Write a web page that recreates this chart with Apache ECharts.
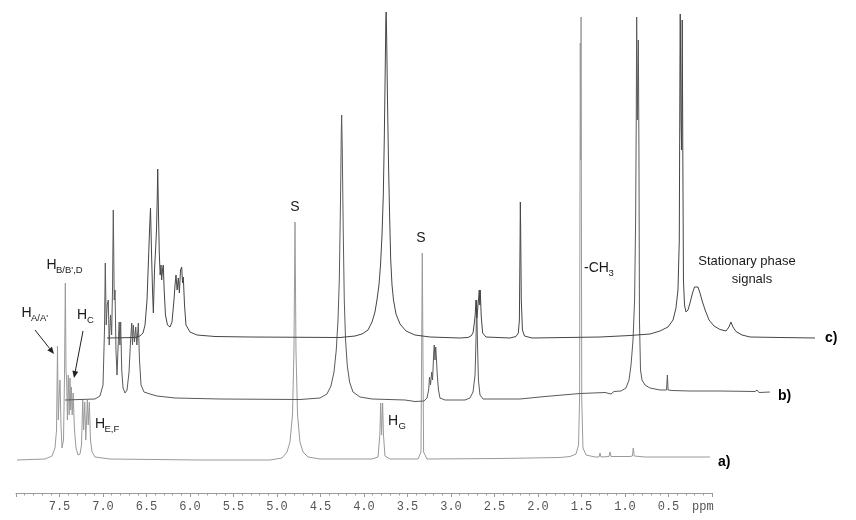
<!DOCTYPE html>
<html>
<head>
<meta charset="utf-8">
<script src="https://cdn.jsdelivr.net/npm/echarts@6/dist/echarts.min.js"></script>
<style>
  html, body { margin: 0; padding: 0; background: #fff; }
  #chart { width: 856px; height: 520px; }
</style>
</head>
<body>
<div id="chart"></div>
<script>
// spectrum a) : [ppm, intensity]
var traceA = [
  [7.989,0],[7.667,1],[7.586,4],[7.552,12],[7.534,30],[7.523,114],[7.514,40],[7.506,60],
  [7.494,80],[7.483,35],[7.471,12],[7.454,20],[7.443,80],[7.433,177],[7.425,90],[7.417,77],
  [7.409,40],[7.399,85],[7.389,45],[7.379,82],[7.371,50],[7.363,73],[7.354,45],[7.343,67],
  [7.328,30],[7.310,12],[7.287,5],[7.264,6],[7.247,15],[7.233,61],[7.223,30],[7.210,58],
  [7.198,20],[7.180,60],[7.170,35],[7.157,58],[7.144,20],[7.126,8],[7.092,3],[6.920,1],
  [5.885,0],[5.080,0],[4.943,2],[4.885,8],[4.851,18],[4.822,45],[4.805,110],[4.793,238],
  [4.782,110],[4.764,45],[4.736,18],[4.701,8],[4.644,3],[4.506,1],[3.908,1],[3.839,3],
  [3.818,25],[3.808,57],[3.798,25],[3.786,57],[3.776,25],[3.759,4],[3.701,1],[3.379,1],
  [3.345,8],[3.330,207],[3.315,8],[3.276,1],[2.437,1.5],[1.747,2.5],[1.632,3.5],[1.563,6],
  [1.534,15],[1.522,60],[1.514,417],[1.509,300],[1.505,443],[1.497,60],[1.483,12],[1.448,5],
  [1.345,3],[1.299,3],[1.287,7],[1.276,3],[1.184,3.5],[1.172,8],[1.161,3.5],[0.943,3.5],
  [0.914,4],[0.905,12],[0.894,4],[0.770,3],[0.483,3],[0.253,3],[0.023,3]
];

// spectrum b)
var traceB = [
  [7.977,0],[7.632,1],[7.575,4],[7.540,15],[7.523,70],[7.514,137],[7.503,75],[7.492,95],
  [7.479,100],[7.469,55],[7.454,85],[7.441,65],[7.431,110],[7.422,190],[7.411,100],[7.402,110],
  [7.391,50],[7.379,25],[7.366,55],[7.354,78],[7.346,55],[7.337,78],[7.325,30],[7.310,12],
  [7.287,7],[7.264,10],[7.241,28],[7.223,60],[7.210,77],[7.201,55],[7.192,75],[7.178,58],
  [7.164,73],[7.151,55],[7.134,77],[7.121,40],[7.103,15],[7.069,8],[7.000,6],[6.920,4],
  [6.713,2],[6.195,1],[5.276,0.5],[5.046,2],[4.966,6],[4.920,14],[4.885,28],[4.859,50],
  [4.839,80],[4.824,120],[4.810,200],[4.801,270],[4.797,285],[4.790,250],[4.779,170],[4.767,100],
  [4.752,60],[4.733,35],[4.706,18],[4.667,8],[4.586,3],[4.448,1],[4.069,0],[3.954,-1.5],
  [3.851,-1],[3.816,2],[3.797,10],[3.787,23],[3.776,15],[3.762,28],[3.752,20],[3.740,45],
  [3.733,55],[3.724,40],[3.716,53],[3.707,40],[3.698,25],[3.684,10],[3.667,2],[3.609,0],
  [3.379,0],[3.322,2],[3.287,8],[3.264,25],[3.253,60],[3.245,100],[3.237,60],[3.225,20],
  [3.207,5],[3.172,1],[2.747,1],[2.460,3.5],[2.057,6.5],[1.770,7.5],[1.701,6],[1.667,8.5],
  [1.586,9],[1.529,12],[1.494,20],[1.471,35],[1.448,60],[1.430,100],[1.418,180],[1.411,280],
  [1.406,383],[1.399,280],[1.393,320],[1.387,360],[1.380,250],[1.374,80],[1.362,30],[1.345,20],
  [1.310,15],[1.253,12],[1.138,10],[1.063,10],[1.053,25],[1.045,10],[0.999,9.5],[0.793,9],
  [0.448,9],[0.046,8.5],[0.023,10],[0.000,7.5],[-0.126,8]
];

// spectrum c)
var traceC = [
  [8.000,0],[7.678,0.5],[7.621,2],[7.586,5],[7.563,13],[7.540,38],[7.523,78],[7.511,108],
  [7.500,130],[7.489,88],[7.477,48],[7.467,25],[7.454,68],[7.440,91],[7.431,108],[7.423,138],
  [7.417,169],[7.409,128],[7.399,85],[7.389,63],[7.379,73],[7.372,58],[7.362,68],[7.353,73],
  [7.343,48],[7.328,23],[7.305,13],[7.276,11],[7.253,16],[7.230,38],[7.218,53],[7.207,63],
  [7.194,48],[7.180,60],[7.168,45],[7.155,68],[7.141,71],[7.132,55],[7.123,61],[7.109,33],
  [7.092,13],[7.046,6],[6.966,3],[6.759,1.5],[6.356,1],[5.322,0.5],[5.149,2],[5.069,4],
  [5.000,8],[4.954,16],[4.920,26],[4.897,38],[4.874,53],[4.856,73],[4.839,103],[4.824,143],
  [4.813,198],[4.802,268],[4.795,318],[4.791,326],[4.785,298],[4.776,238],[4.764,173],[4.753,128],
  [4.739,78],[4.724,53],[4.707,38],[4.678,24],[4.632,14],[4.563,7],[4.460,3],[4.287,1],
  [3.943,0],[3.851,0.5],[3.816,2],[3.793,5],[3.778,15],[3.768,23],[3.759,38],[3.749,20],
  [3.740,18],[3.730,38],[3.721,48],[3.715,33],[3.710,48],[3.698,21],[3.682,5],[3.644,1],
  [3.368,0],[3.299,1.5],[3.272,5],[3.260,18],[3.253,88],[3.249,136],[3.245,108],[3.238,38],
  [3.225,8],[3.201,2],[3.115,0],[2.333,1],[1.989,2.5],[1.759,4],[1.644,7],[1.552,11],
  [1.494,18],[1.460,30],[1.437,48],[1.422,98],[1.414,278],[1.411,324],[1.402,218],[1.395,188],
  [1.388,318],[1.381,178],[1.374,58],[1.362,33],[1.345,26],[1.322,28],[1.299,35],[1.270,45],
  [1.247,51],[1.226,53],[1.207,51],[1.184,45],[1.155,36],[1.121,27],[1.080,18],[1.023,12],
  [0.954,8.5],[0.885,7],[0.851,11],[0.828,16],[0.805,11],[0.770,6.5],[0.701,3],[0.609,1],
  [0.264,0.5],[-0.138,0]
];

var traceNames = ['a)', 'b)', 'c)'];
var ppmMin = 0, ppmMax = 8;

var chart = echarts.init(document.getElementById('chart'), null, { renderer: 'canvas' });

var sansFont = '"Liberation Sans", Arial, sans-serif';
function txt(x, y, s, size, opts) {
  opts = opts || {};
  return {
    type: 'text', x: x, y: y, silent: true,
    style: {
      text: s, fill: opts.color || '#1a1a1a',
      font: (opts.weight || 'normal') + ' ' + size + 'px ' + (opts.family || sansFont),
      textAlign: opts.align || 'left', textVerticalAlign: 'middle'
    }
  };
}
function arrow(x1, y1, x2, y2) {
  var a = Math.atan2(y2 - y1, x2 - x1), L = 7, W = 3;
  var bx = x2 - L * Math.cos(a), by = y2 - L * Math.sin(a);
  return [
    { type: 'line', silent: true, shape: { x1: x1, y1: y1, x2: bx, y2: by },
      style: { stroke: '#222', lineWidth: 1 } },
    { type: 'polygon', silent: true,
      shape: { points: [[x2, y2], [bx + W * Math.sin(a), by - W * Math.cos(a)], [bx - W * Math.sin(a), by + W * Math.cos(a)]] },
      style: { fill: '#222' } }
  ];
}

var graphics = [
  txt(46.5, 265, 'H', 14), txt(56, 270, "B/B',D", 9.5),
  txt(21.5, 313, 'H', 14), txt(31, 318, "A/A'", 9.5),
  txt(77, 315, 'H', 14), txt(87, 320, 'C', 9.5),
  txt(95, 424, 'H', 14), txt(104.5, 429, 'E,F', 9.5),
  txt(295, 207, 'S', 14, { align: 'center' }),
  txt(421, 238, 'S', 14, { align: 'center' }),
  txt(388, 421, 'H', 14), txt(398.5, 426, 'G', 9.5),
  txt(584, 268, '-CH', 14), txt(608.5, 273, '3', 9.5),
  txt(747, 261, 'Stationary phase', 13, { align: 'center' }),
  txt(752, 279, 'signals', 13, { align: 'center' }),
  txt(718, 462, traceNames[0], 14, { weight: 'bold', color: '#000' }),
  txt(778, 396, traceNames[1], 14, { weight: 'bold', color: '#000' }),
  txt(825, 338, traceNames[2], 14, { weight: 'bold', color: '#000' }),
  txt(692, 507, 'ppm', 12, { family: '"Liberation Mono", monospace', color: '#555' })
].concat(arrow(35, 330, 54, 354), arrow(83, 331, 74, 378));

var option = {
  animation: false,
  backgroundColor: '#fff',
  grid: [
    { left: 16, top: 0, width: 696, height: 493 },
    { left: 63, top: 0, width: 713.4, height: 410 },
    { left: 107, top: 0, width: 713.4, height: 348 }
  ],
  xAxis: [
    {
      gridIndex: 0, type: 'value', min: ppmMin, max: ppmMax, inverse: true, interval: 0.5,
      axisLine: { onZero: false, lineStyle: { color: '#9a9a9a', width: 1 } },
      axisTick: { length: 4, lineStyle: { color: '#9a9a9a' } },
      minorTick: { show: true, splitNumber: 5, length: 2.5, lineStyle: { color: '#9a9a9a' } },
      splitLine: { show: false },
      axisLabel: {
        margin: 8, color: '#555', fontSize: 12, fontFamily: '"Liberation Mono", monospace',
        formatter: function (v) { return (v === ppmMin || v === ppmMax) ? '' : v.toFixed(1); }
      }
    },
    { gridIndex: 1, type: 'value', min: -0.2, max: 8, inverse: true, show: false },
    { gridIndex: 2, type: 'value', min: -0.2, max: 8, inverse: true, show: false }
  ],
  yAxis: [
    { gridIndex: 0, type: 'value', min: -33, max: 460, show: false },
    { gridIndex: 1, type: 'value', min: -10, max: 400, show: false },
    { gridIndex: 2, type: 'value', min: -10, max: 338, show: false }
  ],
  series: [
    { name: traceNames[0], type: 'line', xAxisIndex: 0, yAxisIndex: 0, data: traceA,
      showSymbol: false, clip: false, silent: true, z: 2,
      lineStyle: { color: '#9a9a9a', width: 1 } },
    { name: traceNames[1], type: 'line', xAxisIndex: 1, yAxisIndex: 1, data: traceB,
      showSymbol: false, clip: false, silent: true, z: 3,
      lineStyle: { color: '#5a5a5a', width: 1 } },
    { name: traceNames[2], type: 'line', xAxisIndex: 2, yAxisIndex: 2, data: traceC,
      showSymbol: false, clip: false, silent: true, z: 4,
      lineStyle: { color: '#454545', width: 1 } }
  ],
  graphic: graphics
};
chart.setOption(option);
</script>
</body>
</html>
